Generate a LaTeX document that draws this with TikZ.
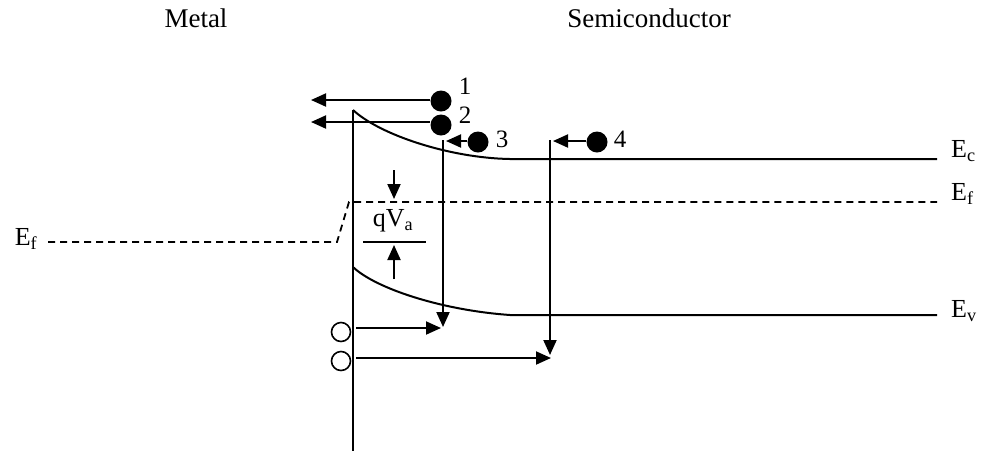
\documentclass[tikz,border=0pt]{standalone}
\usepackage{fontspec}
\setmainfont{Liberation Serif}
\usetikzlibrary{arrows.meta}
\begin{document}
\begin{tikzpicture}[x=1pt,y=-1pt,
  band/.style={line width=2pt},
  fermi/.style={line width=1.8pt,dash pattern=on 7pt off 5pt},
  arr/.style={line width=2pt,-{Triangle[length=15pt,width=13pt]}},
  electron/.style={circle,fill=black,inner sep=0pt,minimum size=21pt},
  hole/.style={circle,draw=black,line width=1.6pt,inner sep=0pt,minimum size=19pt},
  lbl/.style={inner sep=0pt,font=\fontsize{26}{29}\selectfont},
  num/.style={inner sep=0pt,font=\fontsize{25}{28}\selectfont},
  title/.style={inner sep=0pt,font=\fontsize{27}{30}\selectfont}]
\useasboundingbox (0,0) rectangle (984,451);
% titles
\node[title] (metal) at (196,18) {Metal};
\node[title] (semi) at (649,18) {Semiconductor};
% metal boundary
\coordinate (mtop) at (353,110);
\coordinate (mbot) at (353,451);
\draw[band] (mtop) -- (mbot);
% conduction band
\coordinate (ecend) at (937,159);
\draw[band] (mtop) .. controls (380,135) and (450,158) .. (510,159) -- (ecend);
\node[lbl,anchor=west] (ec) at (951,151) {E\textsubscript{c}};
% valence band
\coordinate (evstart) at (353,267);
\coordinate (evend) at (937,315);
\draw[band] (evstart) .. controls (375,288) and (440,310) .. (510,315) -- (evend);
\node[lbl,anchor=west] (ev) at (951,311) {E\textsubscript{v}};
% Fermi levels
\coordinate (efl) at (48,242);
\coordinate (efk) at (337,242);
\coordinate (efm) at (349,202);
\coordinate (efr) at (937,202);
\draw[fermi] (efl) -- (efk) -- (efm) -- (efr);
\node[lbl] (efleft) at (26,239) {E\textsubscript{f}};
\node[lbl,anchor=west] (efright) at (951,194) {E\textsubscript{f}};
% qVa
\coordinate (qa1) at (394,170);
\coordinate (qa2) at (394,199);
\coordinate (qb1) at (394,279);
\coordinate (qb2) at (394,245);
\coordinate (ql1) at (363,242);
\coordinate (ql2) at (426,242);
\draw[arr] (qa1) -- (qa2);
\draw[arr] (qb1) -- (qb2);
\draw[band] (ql1) -- (ql2);
\node[lbl] (qva) at (393,221) {qV\textsubscript{a}};
% electrons
\node[electron] (e1) at (441,101) {};
\node[electron] (e2) at (441,125) {};
\node[electron] (e3) at (478,142) {};
\node[electron] (e4) at (597,142) {};
\node[num] (n1) at (465,86) {1};
\node[num] (n2) at (465,115) {2};
\node[num] (n3) at (502,139) {3};
\node[num] (n4) at (620,139) {4};
\coordinate (t1) at (311,100);
\coordinate (t2) at (311,122);
\coordinate (t3) at (446,141);
\coordinate (t4) at (553,141);
\draw[arr] (e1.west |- t1) -- (t1);
\draw[arr] (e2.west |- t2) -- (t2);
\draw[arr] (e3.west |- t3) -- (t3);
\draw[arr] (e4.west |- t4) -- (t4);
% vertical transitions
\coordinate (v3a) at (443,140);
\coordinate (v3b) at (443,327);
\coordinate (v4a) at (550,140);
\coordinate (v4b) at (550,355);
\draw[arr] (v3a) -- (v3b);
\draw[arr] (v4a) -- (v4b);
% holes
\node[hole] (h1) at (341,332) {};
\node[hole] (h2) at (341,361) {};
\coordinate (h1t) at (441,328);
\coordinate (h2t) at (551,358);
\draw[arr] (h1.east |- h1t) ++(5,0) -- (h1t);
\draw[arr] (h2.east |- h2t) ++(5,0) -- (h2t);
\end{tikzpicture}
\end{document}
